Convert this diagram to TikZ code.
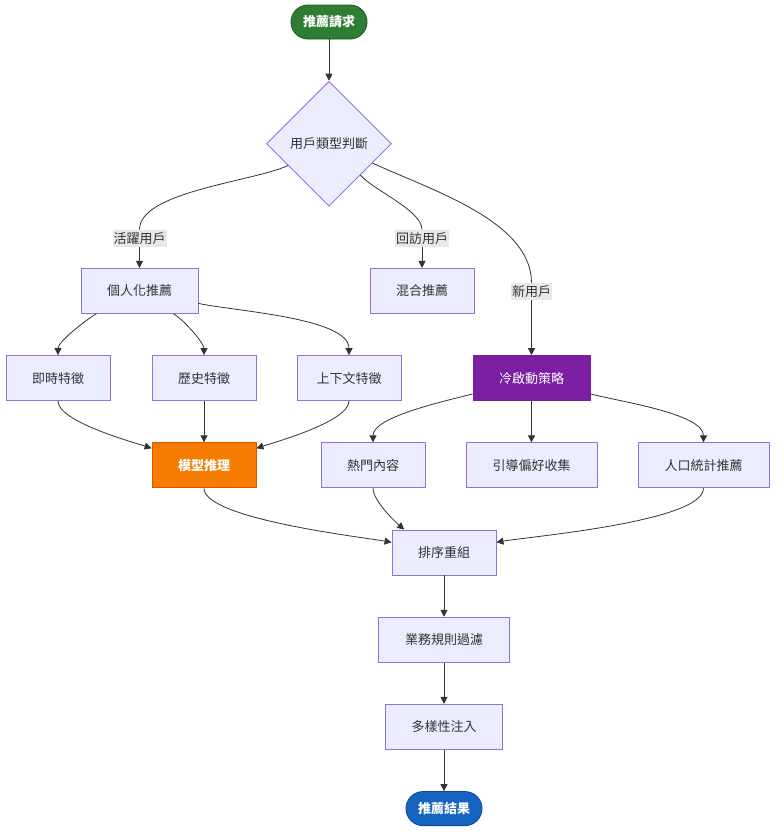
\documentclass[tikz,border=0pt]{standalone}
\usepackage{fontspec}
\setmainfont{Noto Sans CJK TC}
\usetikzlibrary{positioning,shapes.geometric,arrows.meta}
\definecolor{boxfill}{HTML}{ECECFF}
\definecolor{boxline}{HTML}{9370DB}
\definecolor{txt}{HTML}{333333}
\definecolor{lblgray}{HTML}{E8E8E8}
\definecolor{reqgreen}{HTML}{2E7D32}
\definecolor{reqgreenline}{HTML}{1B5E20}
\definecolor{finblue}{HTML}{1565C0}
\definecolor{finblueline}{HTML}{0D47A1}
\definecolor{coldpurple}{HTML}{7B1FA2}
\definecolor{coldline}{HTML}{4A148C}
\definecolor{modelorange}{HTML}{F57C00}
\definecolor{modelline}{HTML}{E65100}

\begin{document}
\begin{tikzpicture}[x=1pt, y=-1pt, ->, >={Triangle[length=7pt,width=7pt]},
	every edge/.append style={draw=txt, line width=0.8pt},
	box/.style = {rectangle, draw=boxline, fill=boxfill, text=txt, line width=0.9pt, minimum width=104pt, minimum height=45pt, inner sep=0pt, font=\fontsize{13}{16}\selectfont},
	wide/.style = {box, minimum width=117pt},
	wider/.style = {box, minimum width=131pt},
	term/.style = {rectangle, rounded corners=17pt, line width=0.9pt, minimum width=76pt, minimum height=34pt, inner sep=0pt, text=white, font=\bfseries\fontsize{13}{16}\selectfont},
	decide/.style = {diamond, aspect=1, draw=boxline, fill=boxfill, text=txt, line width=0.9pt, minimum size=125pt, inner sep=0pt, font=\fontsize{13}{16}\selectfont},
	lbl/.style = {fill=lblgray, text=txt, inner sep=1pt, minimum height=17pt, font=\fontsize{13}{16}\selectfont},
	soft/.style = {looseness=0.6}]
			\useasboundingbox (0,0) rectangle (784,839);
			\node[term, fill=reqgreen, draw=reqgreenline] (req) at (329,22) {推薦請求};
			\node[decide] (judge) [below=41.3pt of req] {用戶類型判斷};
			\node[wide] (pers) [below=61.3pt of judge, xshift=-189.5pt] {個人化推薦};
			\node[box] (mix) [below=61.3pt of judge, xshift=93pt] {混合推薦};
			\node[lbl] (lA) [above=21pt of pers] {活躍用戶};
			\node[lbl] (lB) [above=21pt of mix] {回訪用戶};
			\node[box] (rt) [below=41.3pt of pers, xshift=-81.5pt] {即時特徵};
			\node[box] (hist) [below=41.3pt of pers, xshift=64.5pt] {歷史特徵};
			\node[box] (ctx) [below=41.3pt of pers, xshift=209.5pt] {上下文特徵};
			\node[wide, fill=coldpurple, draw=coldpurple, text=white] (cold) [below=41.3pt of mix, xshift=109.5pt] {冷啟動策略};
			\node[lbl] (lC) [above=55pt of cold] {新用戶};
			\node[box, fill=modelorange, draw=modelline, text=white, font=\bfseries\fontsize{13}{16}\selectfont] (model) [below=41.3pt of hist] {模型推理};
			\node[box] (hot) [below=41.3pt of cold, xshift=-158.5pt] {熱門內容};
			\node[wider] (guide) [below=41.3pt of cold] {引導偏好收集};
			\node[wider] (demo) [below=41.3pt of cold, xshift=172pt] {人口統計推薦};
			\node[box] (sort) [below=41.3pt of guide, xshift=-87.5pt] {排序重組};
			\node[wider] (biz) [below=41.3pt of sort] {業務規則過濾};
			\node[wide] (div) [below=41.3pt of biz] {多樣性注入};
			\node[term, fill=finblue, draw=finblueline] (fin) [below=41.3pt of div] {推薦結果};
			\path
				(req) edge (judge)
				(judge.208) edge[-, soft, out=205, in=90] (lA.north)
				(lA) edge (pers)
				(judge.-45) edge[-, soft, out=-50, in=90] (lB.north)
				(lB) edge (mix)
				(judge.-24) edge[-, out=-25, in=90, looseness=0.8] (lC.north)
				(lC) edge (cold)
				(pers.208) edge[soft, out=-150, in=90] (rt.north)
				(pers.-34) edge[soft, out=-30, in=90] (hist.north)
				(pers.-12) edge[soft, out=-12, in=90] (ctx.north)
				(rt.south) edge[out=-90, in=162, looseness=0.5] (model.162)
				(hist) edge (model)
				(ctx.south) edge[out=-90, in=18, looseness=0.5] (model.18)
				(cold.195) edge[soft, out=195, in=90] (hot.north)
				(cold) edge (guide)
				(cold.-15) edge[soft, out=-15, in=90] (demo.north)
				(model.south) edge[out=-90, in=170, looseness=0.4] (sort.169)
				(hot.south) edge[out=-90, in=140, looseness=0.6] (sort.150)
				(demo.south) edge[out=-90, in=10, looseness=0.4] (sort.11)
				(sort) edge (biz)
				(biz) edge (div)
				(div) edge (fin);
		\end{tikzpicture}
\end{document}
